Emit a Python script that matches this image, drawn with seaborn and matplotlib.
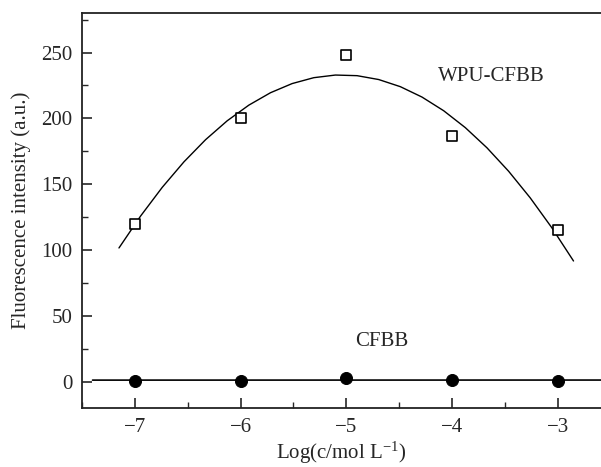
import numpy as np
import pandas as pd
import matplotlib
matplotlib.use("Agg")
import matplotlib.pyplot as plt
from matplotlib.ticker import MultipleLocator
import seaborn as sns

# Data
log_c = [-7, -6, -5, -4, -3]
wpu_cfbb = [120, 200, 248, 187, 115]
cfbb = [0.8, 0.8, 2.5, 1.5, 0.5]
x_ticks = [-7, -6, -5, -4, -3]
y_ticks = [0, 50, 100, 150, 200, 250]

sns.set_style("ticks")
plt.rcParams["font.family"] = ["Liberation Serif", "DejaVu Serif"]
plt.rcParams["mathtext.fontset"] = "custom"
plt.rcParams["mathtext.rm"] = "Liberation Serif"
plt.rcParams["mathtext.it"] = "Liberation Serif:italic"

fig = plt.figure(figsize=(6.01, 4.67), dpi=100)
ax = fig.add_axes([0.1364, 0.1263, 0.8636, 0.8457])

df = pd.DataFrame({"x": log_c, "wpu": wpu_cfbb, "cfbb": cfbb})

# quadratic fit for WPU-CFBB
p2 = np.polyfit(df["x"], df["wpu"], 2)
xf = np.linspace(-7.15, -2.85, 22)
fit2 = pd.DataFrame({"x": xf, "y": np.polyval(p2, xf)})
sns.lineplot(data=fit2, x="x", y="y", ax=ax, color="black", lw=1.0)

# linear fit for CFBB
p1 = np.polyfit(df["x"], df["cfbb"], 1)
xl = np.array([-7.4, -2.5])
fit1 = pd.DataFrame({"x": xl, "y": np.polyval(p1, xl)})
sns.lineplot(data=fit1, x="x", y="y", ax=ax, color="black", lw=1.2)

sns.scatterplot(data=df, x="x", y="wpu", ax=ax, marker="s", s=55,
                facecolor="white", edgecolor="black", linewidth=1.2, zorder=3)
sns.scatterplot(data=df, x="x", y="cfbb", ax=ax, marker="o", s=75,
                color="black", edgecolor="black", zorder=3)

ax.set_xlim(-7.5, -2.59)
ax.set_ylim(-20, 280)
ax.set_xticks(x_ticks)
ax.set_xticklabels(["\u22127", "\u22126", "\u22125", "\u22124", "\u22123"])
ax.set_yticks(y_ticks)
ax.xaxis.set_minor_locator(MultipleLocator(0.5))
ax.yaxis.set_minor_locator(MultipleLocator(25))
ax.tick_params(which="major", direction="in", length=7, width=1.2,
               labelsize=15, top=False, right=False, pad=7)
ax.tick_params(which="minor", direction="in", length=4, width=1.0,
               top=False, right=False)

for s in ["left", "bottom", "top"]:
    ax.spines[s].set_linewidth(1.3)
    ax.spines[s].set_color("#222222")
ax.spines["right"].set_visible(False)

ax.set_xlabel("Log(c/mol L$^{-1}$)", fontsize=15, labelpad=2)
ax.set_ylabel("Fluorescence intensity (a.u.)", fontsize=15, labelpad=7)

ax.text(-3.63, 232, "WPU-CFBB", fontsize=15, ha="center", va="center")
ax.text(-4.66, 30.5, "CFBB", fontsize=15, ha="center", va="center")

fig.savefig("out.png", dpi=100)
